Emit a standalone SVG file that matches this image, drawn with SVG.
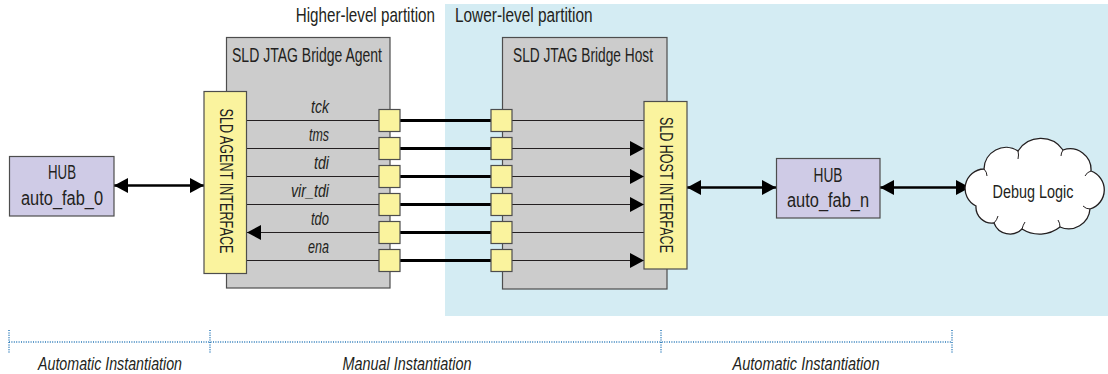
<svg xmlns="http://www.w3.org/2000/svg" width="1108" height="374" viewBox="0 0 1108 374">
  <style>
    text { font-family: "Liberation Sans", Arial, sans-serif; fill: #231f20; }
    .title { font-size: 20px; text-anchor: middle; }
    .sig { font-size: 18px; font-style: italic; text-anchor: end; }
    .vert { font-size: 19px; text-anchor: middle; dominant-baseline: central; }
    .foot { font-size: 18px; font-style: italic; text-anchor: middle; }
    .block { fill: #cccccc; stroke: #4d4d4d; stroke-width: 1.2; }
    .iface { fill: #faf39e; stroke: #4d4d4d; stroke-width: 1.2; }
    .hub { fill: #cfcbe6; stroke: #4d4d4d; stroke-width: 1.2; }
    .pad { fill: #faf39e; stroke: #4d4d4d; stroke-width: 1.2; }
    .wire { stroke: #231f20; stroke-width: 1.2; fill: none; }
    .bus { stroke: #000; stroke-width: 3; fill: none; }
    .link { stroke: #000; stroke-width: 2.5; fill: none; }
    .axis { stroke: #2b7bb9; stroke-width: 1.5; stroke-dasharray: 1 1.4; fill: none; }
  </style>
  <defs>
    <marker id="head" markerUnits="userSpaceOnUse" markerWidth="14" markerHeight="15" refX="14" refY="7.5" orient="auto-start-reverse">
      <path d="M0,0 L14,7.5 L0,15 Z" fill="#000"/>
    </marker>
  </defs>

  <!-- lower-level partition backdrop -->
  <rect x="445" y="4" width="663" height="312" fill="#d4ecf3"/>
  <!-- partition captions, condensed horizontally -->
  <text class="title" transform="translate(435,22) scale(0.76,1)" style="text-anchor:end">Higher-level partition</text>
  <text class="title" transform="translate(455,22) scale(0.77,1)" style="text-anchor:start">Lower-level partition</text>

  <!-- bridge agent -->
  <g id="agent">
    <rect class="block" x="226.5" y="37.5" width="163.5" height="250.5"/>
    <text class="title" x="307" y="62" textLength="150" lengthAdjust="spacingAndGlyphs">SLD JTAG Bridge Agent</text>
  </g>

  <!-- bridge host -->
  <g id="host">
    <rect class="block" x="502.5" y="37.5" width="164.5" height="251.5"/>
    <text class="title" x="583" y="62" textLength="140" lengthAdjust="spacingAndGlyphs">SLD JTAG Bridge Host</text>
  </g>

  <!-- signal wires, bus and hub links -->
  <g id="connectors">
    <!-- agent-side wires -->
    <path class="wire" d="M247,120.5 H379 M247,148.5 H379 M247,176.5 H379 M247,204.5 H379 M247,260.5 H379"/>
    <path class="wire" d="M379,232.5 H247" marker-end="url(#head)"/>
    <!-- host-side wires -->
    <path class="wire" d="M512,120.5 H644 M512,232.5 H644"/>
    <path class="wire" d="M512,148.5 H644" marker-end="url(#head)"/>
    <path class="wire" d="M512,176.5 H644" marker-end="url(#head)"/>
    <path class="wire" d="M512,204.5 H644" marker-end="url(#head)"/>
    <path class="wire" d="M512,260.5 H644" marker-end="url(#head)"/>
    <!-- cross-partition bus -->
    <path class="bus" d="M400,120.5 H491 M400,148.5 H491 M400,176.5 H491 M400,204.5 H491 M400,232.5 H491 M400,260.5 H491"/>
    <!-- hub links -->
    <path class="link" d="M114,185.5 H204" marker-start="url(#head)" marker-end="url(#head)"/>
    <path class="link" d="M687,187.5 H776" marker-start="url(#head)" marker-end="url(#head)"/>
    <path class="link" d="M880,187.5 H970" marker-start="url(#head)" marker-end="url(#head)"/>
  </g>

  <g id="pads">
    <rect class="pad" x="379" y="109.5" width="21" height="22"/>
    <rect class="pad" x="379" y="137.5" width="21" height="22"/>
    <rect class="pad" x="379" y="165.5" width="21" height="22"/>
    <rect class="pad" x="379" y="193.5" width="21" height="22"/>
    <rect class="pad" x="379" y="221.5" width="21" height="22"/>
    <rect class="pad" x="379" y="249.5" width="21" height="22"/>
    <rect class="pad" x="491" y="109.5" width="21" height="22"/>
    <rect class="pad" x="491" y="137.5" width="21" height="22"/>
    <rect class="pad" x="491" y="165.5" width="21" height="22"/>
    <rect class="pad" x="491" y="193.5" width="21" height="22"/>
    <rect class="pad" x="491" y="221.5" width="21" height="22"/>
    <rect class="pad" x="491" y="249.5" width="21" height="22"/>
  </g>

  <g id="signals">
    <text class="sig" x="329" y="113" textLength="18" lengthAdjust="spacingAndGlyphs">tck</text>
    <text class="sig" x="329" y="141" textLength="20" lengthAdjust="spacingAndGlyphs">tms</text>
    <text class="sig" x="329" y="169" textLength="15" lengthAdjust="spacingAndGlyphs">tdi</text>
    <text class="sig" x="329" y="197" textLength="38" lengthAdjust="spacingAndGlyphs">vir_tdi</text>
    <text class="sig" x="329" y="225" textLength="18" lengthAdjust="spacingAndGlyphs">tdo</text>
    <text class="sig" x="329" y="253" textLength="21" lengthAdjust="spacingAndGlyphs">ena</text>
  </g>

  <g id="agent-interface">
    <rect class="iface" x="204" y="91.5" width="42.5" height="182"/>
    <text class="vert" transform="translate(226,181) rotate(90)" textLength="145" lengthAdjust="spacingAndGlyphs">SLD AGENT INTERFACE</text>
  </g>

  <g id="host-interface">
    <rect class="iface" x="644" y="101.5" width="43" height="167.5"/>
    <text class="vert" transform="translate(666,185) rotate(90)" textLength="136" lengthAdjust="spacingAndGlyphs">SLD HOST INTERFACE</text>
  </g>

  <g id="hub0">
    <rect class="hub" x="9.5" y="156.5" width="104.5" height="59.5"/>
    <text class="title" x="62" y="179" textLength="28" lengthAdjust="spacingAndGlyphs">HUB</text>
    <text class="title" x="62" y="205" textLength="82" lengthAdjust="spacingAndGlyphs">auto_fab_0</text>
  </g>

  <g id="hubn">
    <rect class="hub" x="776.5" y="158.5" width="103.5" height="59.5"/>
    <text class="title" x="828" y="182" textLength="29" lengthAdjust="spacingAndGlyphs">HUB</text>
    <text class="title" x="828" y="207" textLength="82" lengthAdjust="spacingAndGlyphs">auto_fab_n</text>
  </g>

  <g id="debug">
    <path d="M976,206 A19.5,19.5 0 0 1 984,169 A22,22 0 0 1 1018,151 A27,27 0 0 1 1063,150 A21,21 0 0 1 1091,171 A20,20 0 0 1 1090,209 A21.5,21.5 0 0 1 1060,227 A33,33 0 0 1 1022,229 A17,17 0 0 1 994,223 A16,16 0 0 1 976,206 Z" fill="#fff" stroke="#231f20" stroke-width="1.3"/>
    <path d="M984,169 q3,3 3,7 M1018,151 q1,4 0,8 M1063,150 q-2,3 -2,6 M1091,171 q-4,1 -6,5 M1090,209 q-4,0 -7,-3 M1060,227 q0,-4 -2,-7 M1022,229 q1,-4 3,-7 M994,223 q3,-3 4,-7" fill="none" stroke="#231f20" stroke-width="1"/>
    <text class="title" x="1033" y="198" style="font-size:19px" textLength="81" lengthAdjust="spacingAndGlyphs">Debug Logic</text>
  </g>

  <!-- instantiation scale -->
  <g id="scale">
    <path class="axis" d="M9,342 H952 M9,330 V354 M210,330 V354 M661,330 V354 M952,330 V354"/>
    <text class="foot" x="110" y="370" textLength="144" lengthAdjust="spacingAndGlyphs">Automatic Instantiation</text>
    <text class="foot" x="407" y="370" textLength="129" lengthAdjust="spacingAndGlyphs">Manual Instantiation</text>
    <text class="foot" x="806" y="370" textLength="147" lengthAdjust="spacingAndGlyphs">Automatic Instantiation</text>
  </g>
</svg>
